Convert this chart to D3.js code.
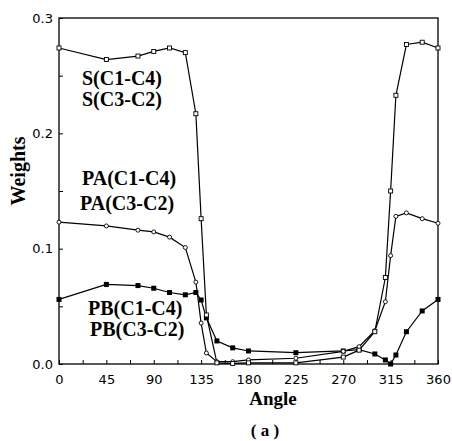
<!DOCTYPE html>
<html>
<head>
<meta charset="utf-8">
<script src="https://cdn.jsdelivr.net/npm/d3@7"></script>
<style>
  html, body { margin: 0; padding: 0; background: #fff; }
  svg { display: block; }
</style>
</head>
<body>
<svg id="chart" width="452" height="441"></svg>
<script>
// ---- data ----
const angles = [0, 45, 75, 90, 105, 120, 130, 135, 140, 150, 165, 180, 225, 270, 285, 300, 310, 315, 320, 330, 345, 360];
const seriesS  = [0.274, 0.264, 0.267, 0.271, 0.274, 0.270, 0.217, 0.126, 0.0425, 0.001, 0.0005, 0.001, 0.001, 0.006, 0.012, 0.028, 0.075, 0.150, 0.233, 0.277, 0.279, 0.274];
const seriesPA = [0.123, 0.1197, 0.116, 0.1145, 0.110, 0.101, 0.071, 0.0355, 0.0095, 0.002, 0.002, 0.0035, 0.005, 0.011, 0.015, 0.029, 0.054, 0.094, 0.128, 0.131, 0.126, 0.122];
const seriesPB = [0.056, 0.069, 0.068, 0.0657, 0.062, 0.060, 0.062, 0.0555, 0.040, 0.020, 0.014, 0.0113, 0.0098, 0.0113, 0.0125, 0.0087, 0.0035, 0.0, 0.0078, 0.028, 0.046, 0.056];
const xTickLabels = [0, 45, 90, 135, 180, 225, 270, 315, 360];
const xMinorTicks = [0, 22.5, 45, 67.5, 90, 112.5, 135, 157.5, 180, 202.5, 225, 247.5, 270, 292.5, 315, 337.5, 360];
const yTickLabels = [0, 0.1, 0.2, 0.3];
const yMinorTicks = [0, 0.05, 0.1, 0.15, 0.2, 0.25, 0.3];
const labelsS  = ["S(C1-C4)", "S(C3-C2)"];
const labelsPA = ["PA(C1-C4)", "PA(C3-C2)"];
const labelsPB = ["PB(C1-C4)", "PB(C3-C2)"];
const xTitle = "Angle";
const yTitle = "Weights";
const caption = "( a )";

// ---- layout ----
const svg = d3.select("#chart");
const L = 59, R = 438, T = 18, B = 364;
const x = d3.scaleLinear().domain([0, 360]).range([L, R]);
const y = d3.scaleLinear().domain([0, 0.3]).range([B, T]);
const tickFont = "DejaVu Sans, Verdana, sans-serif";
const serif = "'Liberation Serif', 'Times New Roman', Times, serif";

// frame
svg.append("rect").attr("x", L).attr("y", T).attr("width", R - L).attr("height", B - T)
  .attr("fill", "none").attr("stroke", "#000").attr("stroke-width", 1.3);

// x axis ticks (inward)
const xAxisTicks = d3.axisBottom(x).tickValues(xMinorTicks).tickSize(-4).tickFormat("");
const gx1 = svg.append("g").attr("transform", `translate(0,${B})`).call(xAxisTicks);
gx1.select(".domain").remove();
gx1.selectAll("line").attr("stroke", "#000").attr("stroke-width", 1);

const xAxisLabels = d3.axisBottom(x).tickValues(xTickLabels).tickSize(0).tickPadding(11).tickFormat(d3.format("d"));
const gx2 = svg.append("g").attr("transform", `translate(0,${B})`).call(xAxisLabels);
gx2.select(".domain").remove();
gx2.selectAll("text").attr("font-family", tickFont).attr("font-size", 13).attr("fill", "#000");

// y axis
const yAxisTicks = d3.axisLeft(y).tickValues(yMinorTicks).tickSize(-4).tickFormat("");
const gy1 = svg.append("g").attr("transform", `translate(${L},0)`).call(yAxisTicks);
gy1.select(".domain").remove();
gy1.selectAll("line").attr("stroke", "#000").attr("stroke-width", 1);

const yAxisLabels = d3.axisLeft(y).tickValues(yTickLabels).tickSize(0).tickPadding(6).tickFormat(d3.format(".1f"));
const gy2 = svg.append("g").attr("transform", `translate(${L},0)`).call(yAxisLabels);
gy2.select(".domain").remove();
gy2.selectAll("text").attr("font-family", tickFont).attr("font-size", 13).attr("fill", "#000");

// lines
const line = d3.line().x(d => x(d[0])).y(d => y(d[1]));
function series(vals) { return angles.map((a, i) => [a, vals[i]]); }
const dS = series(seriesS), dPA = series(seriesPA), dPB = series(seriesPB);

[dPB, dPA, dS].forEach(d => {
  svg.append("path").datum(d).attr("d", line)
    .attr("fill", "none").attr("stroke", "#000").attr("stroke-width", 1.2);
});

// markers
svg.append("g").selectAll("rect").data(dPB).join("rect")
  .attr("x", d => x(d[0]) - 2.5).attr("y", d => y(d[1]) - 2.5)
  .attr("width", 5).attr("height", 5).attr("fill", "#000");
svg.append("g").selectAll("circle").data(dPA).join("circle")
  .attr("cx", d => x(d[0])).attr("cy", d => y(d[1])).attr("r", 2)
  .attr("fill", "#fff").attr("stroke", "#000").attr("stroke-width", 0.9);
svg.append("g").selectAll("rect").data(dS).join("rect")
  .attr("x", d => x(d[0]) - 2).attr("y", d => y(d[1]) - 2)
  .attr("width", 4).attr("height", 4)
  .attr("fill", "#fff").attr("stroke", "#000").attr("stroke-width", 0.9);

// annotations
function annot(lines, xs, ys) {
  lines.forEach((t, i) => {
    svg.append("text").attr("x", xs[i]).attr("y", ys[i])
      .attr("font-family", serif).attr("font-weight", "bold").attr("font-size", 20)
      .attr("fill", "#000").text(t);
  });
}
annot(labelsS, [82, 82], [85, 106]);
annot(labelsPA, [82, 80], [185, 210]);
annot(labelsPB, [88, 90], [315, 336]);

// titles
svg.append("text").attr("x", 273).attr("y", 405).attr("text-anchor", "middle")
  .attr("font-family", serif).attr("font-weight", "bold").attr("font-size", 19).text(xTitle);
svg.append("text").attr("transform", "translate(25,171) rotate(-90)").attr("text-anchor", "middle")
  .attr("font-family", serif).attr("font-weight", "bold").attr("font-size", 20).text(yTitle);
svg.append("text").attr("x", 265).attr("y", 436).attr("text-anchor", "middle")
  .attr("font-family", serif).attr("font-weight", "bold").attr("font-size", 17).text(caption);
</script>
</body>
</html>
